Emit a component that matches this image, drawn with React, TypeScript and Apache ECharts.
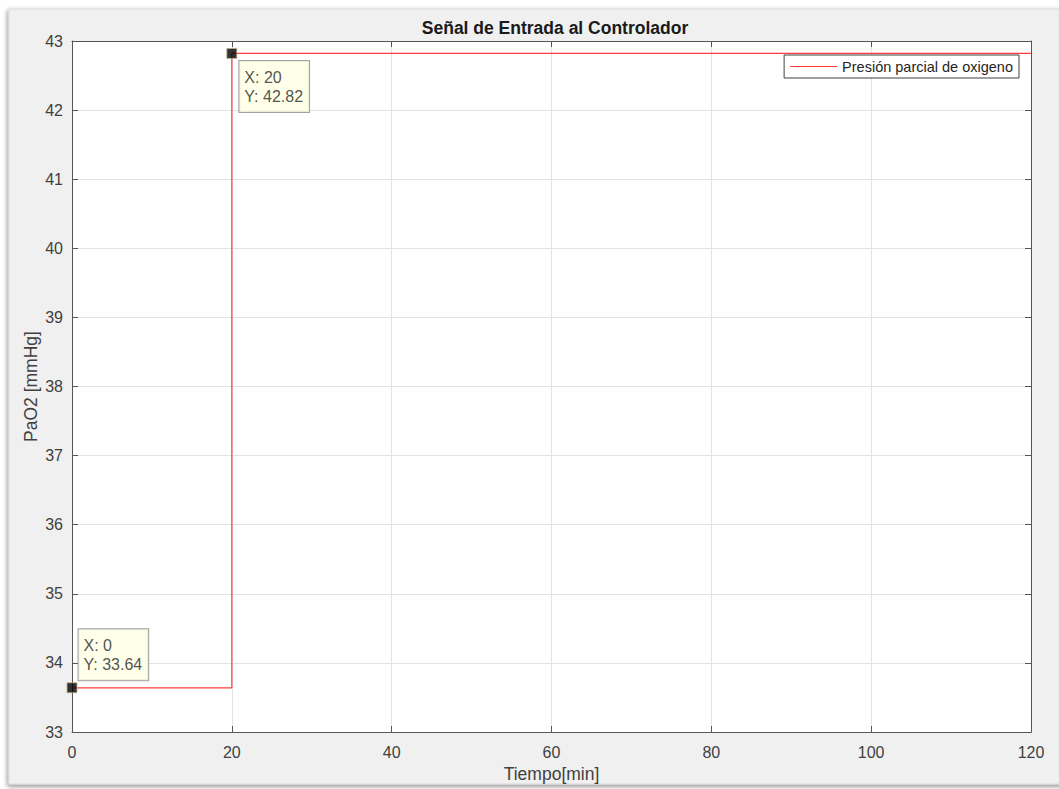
import React, { useEffect, useRef } from "react";
import * as echarts from "echarts";

const stepX = [0, 20, 20, 120];
const stepY = [33.64, 33.64, 42.82, 42.82];
const tipX = [0, 20];
const tipY = [33.64, 42.82];
const seriesName = "Presión parcial de oxigeno";
const titleText = "Señal de Entrada al Controlador";
const xName = "Tiempo[min]";
const yName = "PaO2 [mmHg]";

const FONT = "Liberation Sans, Arial, Helvetica, sans-serif";

export default function App() {
  const ref = useRef<HTMLDivElement>(null);
  useEffect(() => {
    document.body.style.margin = "0";
    const chart = echarts.init(ref.current!, null, { renderer: "svg" });
    const lineData = stepX.map((x, i) => [x, stepY[i]]);
    const tips = tipX.map((x, i) => ({
      value: [x, tipY[i]],
      label: {
        position: i === 0 ? [12, -53] : [13, 13],
      },
    }));
    const axisColor = "#555555";
    const lineColor = "#ff3a3a";
    chart.setOption({
      animation: false,
      backgroundColor: "#ffffff",
      textStyle: { fontFamily: FONT },
      graphic: [
        {
          type: "rect",
          z: -100,
          silent: true,
          shape: { x: 9, y: 9, width: 1060, height: 775 },
          style: {
            fill: "#f0f0f0",
            stroke: "#d8d8d8",
            lineWidth: 1,
            shadowBlur: 5,
            shadowOffsetX: -1,
            shadowOffsetY: 2,
            shadowColor: "rgba(0,0,0,0.45)",
          },
        },
      ],
      title: {
        text: titleText,
        left: 550,
        textAlign: "center",
        top: 14,
        textStyle: { fontFamily: FONT, fontSize: 17.5, fontWeight: "bold", color: "#1a1a1a" },
      },
      legend: {
        right: 40,
        top: 55,
        data: [{ name: seriesName, icon: "rect" }],
        backgroundColor: "#ffffff",
        borderColor: "#404040",
        borderWidth: 1,
        borderRadius: 0,
        padding: [4, 6, 4, 6],
        itemWidth: 47,
        itemHeight: 1.2,
        itemGap: 5,
        textStyle: { fontFamily: FONT, fontSize: 14.5, color: "#262626" },
      },
      grid: {
        left: 72,
        right: 28,
        top: 41,
        bottom: 57,
        show: true,
        backgroundColor: "#ffffff",
        borderWidth: 0,
      },
      xAxis: [
        {
          type: "value",
          min: 0,
          max: 120,
          interval: 20,
          name: xName,
          nameLocation: "middle",
          nameGap: 33,
          nameMoveOverlap: false,
          nameTextStyle: { fontFamily: FONT, fontSize: 17.5, color: "#404040" },
          axisLine: { show: true, onZero: false, lineStyle: { color: axisColor, width: 1 } },
          axisTick: { show: true, inside: true, length: 6, lineStyle: { color: axisColor } },
          axisLabel: { fontFamily: FONT, fontSize: 16, color: "#404040", margin: 12 },
          splitLine: { show: true, lineStyle: { color: "#e3e3e3", width: 1 } },
        },
        {
          type: "value",
          position: "top",
          min: 0,
          max: 120,
          interval: 20,
          axisLine: { show: true, onZero: false, lineStyle: { color: axisColor, width: 1 } },
          axisTick: { show: true, inside: true, length: 6, lineStyle: { color: axisColor } },
          axisLabel: { show: false },
          splitLine: { show: false },
        },
      ],
      yAxis: [
        {
          type: "value",
          min: 33,
          max: 43,
          interval: 1,
          name: yName,
          nameLocation: "middle",
          nameGap: 32,
          nameMoveOverlap: false,
          nameTextStyle: { fontFamily: FONT, fontSize: 17.5, color: "#404040" },
          axisLine: { show: true, onZero: false, lineStyle: { color: axisColor, width: 1 } },
          axisTick: { show: true, inside: true, length: 6, lineStyle: { color: axisColor } },
          axisLabel: { fontFamily: FONT, fontSize: 16, color: "#404040", margin: 9 },
          splitLine: { show: true, lineStyle: { color: "#e3e3e3", width: 1 } },
        },
        {
          type: "value",
          position: "right",
          min: 33,
          max: 43,
          interval: 1,
          axisLine: { show: true, onZero: false, lineStyle: { color: axisColor, width: 1 } },
          axisTick: { show: true, inside: true, length: 6, lineStyle: { color: axisColor } },
          axisLabel: { show: false },
          splitLine: { show: false },
        },
      ],
      series: [
        {
          name: seriesName,
          type: "line",
          data: lineData,
          symbol: "none",
          lineStyle: { color: lineColor, width: 1.2 },
          itemStyle: { color: lineColor },
          z: 3,
        },
        {
          name: "datatips",
          type: "scatter",
          data: tips,
          symbol: "rect",
          symbolSize: 10,
          itemStyle: { color: "#000000", borderColor: "#bdb58a", borderWidth: 1 },
          z: 5,
          label: {
            show: true,
            align: "left",
            verticalAlign: "top",
            formatter: (p: any) => `X: ${p.value[0]}\nY: ${p.value[1]}`,
            fontFamily: FONT,
            fontSize: 16,
            lineHeight: 19,
            color: "#262626",
            backgroundColor: "#ffffe5",
            borderColor: "#8a8a8a",
            borderWidth: 1,
            padding: [7, 6, 6, 5],
          },
        },
      ],
    });
    return () => chart.dispose();
  }, []);
  return <div ref={ref} style={{ width: 1059, height: 789 }} />;
}
